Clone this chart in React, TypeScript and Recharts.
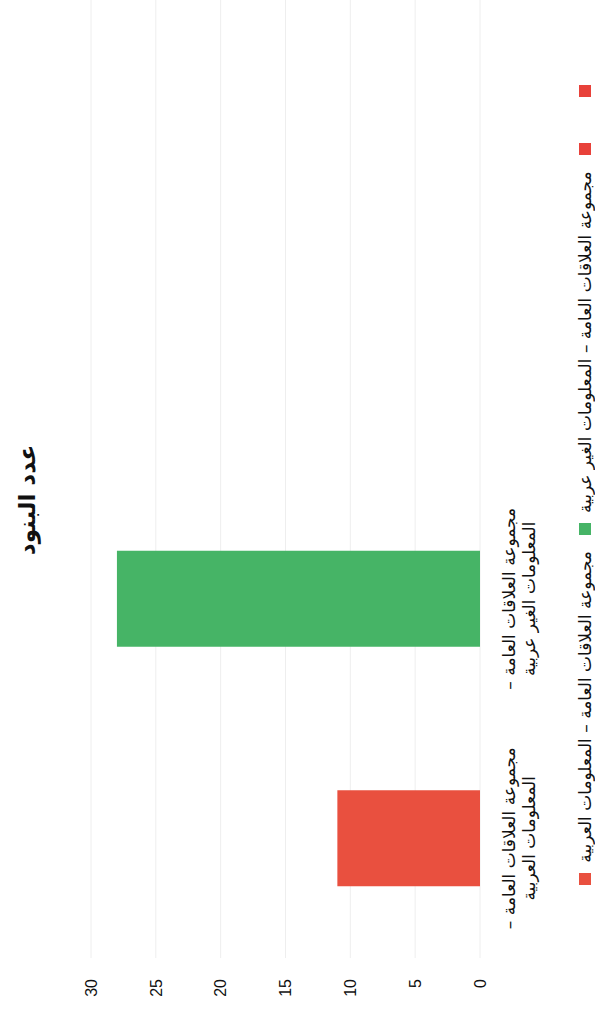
import React from "react";
import { BarChart, Bar, XAxis, YAxis, CartesianGrid, Cell, Legend } from "recharts";

// the source picture is a landscape chart turned a quarter turn to the left
const categories = [
  "مجموعة العلاقات العامة – المعلومات العربية",
  "مجموعة العلاقات العامة – المعلومات الغير عربية",
  "",
  "",
];
const counts = [11, 28, null, null];
const barColors = ["#E9503F", "#46B466", "#E8413A", "#E8413A"];
const yTicks = [0, 5, 10, 15, 20, 25, 30];
const title = "عدد البنود";

const data = categories.map((c, i) => ({ category: c, count: counts[i] }));

const CHART_W = 1014;
const CHART_H = 595;
const FONT = "'Liberation Sans', 'DejaVu Sans', sans-serif";
const AR_FONT = "'DejaVu Sans', sans-serif";

function CategoryTick({ x, y, payload }: any) {
  const text: string = payload?.value || "";
  if (!text) return <g />;
  const i = text.indexOf("–");
  const lines = i >= 0 ? [text.slice(0, i + 1).trim(), text.slice(i + 1).trim()] : [text];
  return (
    <text x={x} y={y} textAnchor="middle" fontSize={17} fill="#111" fontFamily={AR_FONT} direction="rtl">
      {lines.map((l, k) => (
        <tspan key={k} x={x} dy={k === 0 ? "0.71em" : 20}>
          {l}
        </tspan>
      ))}
    </text>
  );
}

function LegendContent() {
  return (
    <div
      style={{
        display: "flex",
        justifyContent: "center",
        alignItems: "center",
        paddingLeft: 90,
        fontFamily: AR_FONT,
        fontSize: 17,
        lineHeight: "18px",
        color: "#111",
        direction: "ltr",
      }}
    >
      {categories.map((c, i) => (
        <div key={i} style={{ display: "flex", alignItems: "center", marginRight: 16 }}>
          <span style={{ width: 12, height: 12, background: barColors[i], marginRight: 10, display: "inline-block" }} />
          <span style={{ minWidth: 20, direction: "rtl", whiteSpace: "nowrap" }}>{c}</span>
        </div>
      ))}
    </div>
  );
}

export default function App() {
  return (
    <div style={{ position: "absolute", top: 0, left: 0, width: 595, height: 1014, overflow: "hidden", background: "#fff" }}>
      <div
        style={{
          position: "absolute",
          left: 0,
          top: 0,
          width: CHART_W,
          height: CHART_H,
          transformOrigin: "0 0",
          transform: `translate(0px, ${CHART_W}px) rotate(-90deg)`,
        }}
      >
        <div
          style={{
            position: "absolute",
            top: 13,
            left: 14,
            right: 0,
            textAlign: "center",
            fontFamily: AR_FONT,
            fontSize: 23,
            lineHeight: "28px",
            fontWeight: "bold",
            color: "#111",
            direction: "rtl",
          }}
        >
          {title}
        </div>
        <BarChart
          width={CHART_W}
          height={CHART_H}
          data={data}
          margin={{ top: 91, right: 0, bottom: 55, left: 0 }}
          barCategoryGap="30%"
        >
          <CartesianGrid vertical={false} stroke="#eeeeee" />
          <XAxis
            dataKey="category"
            height={60}
            axisLine={false}
            tickLine={false}
            tickSize={0}
            tickMargin={23}
            interval={0}
            tick={<CategoryTick />}
          />
          <YAxis
            width={56}
            domain={[0, 30]}
            ticks={yTicks}
            axisLine={false}
            tickLine={false}
            tickSize={0}
            tickMargin={21}
            tick={{ fontSize: 16, fill: "#111", fontFamily: FONT }}
          />
          <Legend
            verticalAlign="middle"
            align="center"
            layout="horizontal"
            content={<LegendContent />}
            wrapperStyle={{ top: 576, left: 0, width: CHART_W }}
          />
          <Bar dataKey="count" isAnimationActive={false}>
            {data.map((d, i) => (
              <Cell key={i} fill={barColors[i]} />
            ))}
          </Bar>
        </BarChart>
      </div>
    </div>
  );
}
